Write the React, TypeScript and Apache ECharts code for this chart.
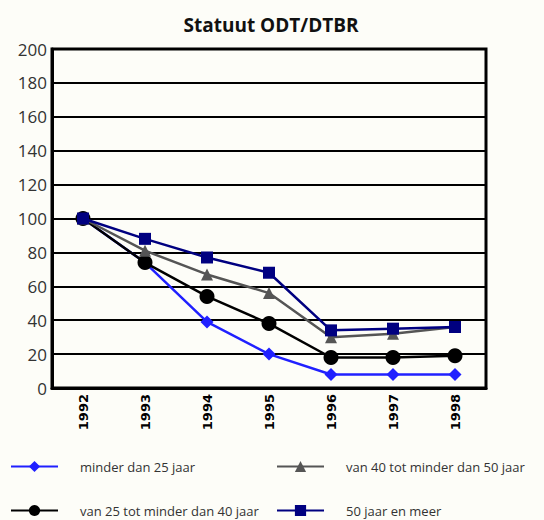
import React, { useEffect, useRef } from "react";
import * as echarts from "echarts";

const years = ["1992", "1993", "1994", "1995", "1996", "1997", "1998"];
const under25 = [100, 74, 39, 20, 8, 8, 8];
const from25to40 = [100, 74, 54, 38, 18, 18, 19];
const from40to50 = [100, 81, 67, 56, 30, 32, 36];
const over50 = [100, 88, 77, 68, 34, 35, 36];
const names = [
  "minder dan 25 jaar",
  "van 25 tot minder dan 40 jaar",
  "van 40 tot minder dan 50 jaar",
  "50 jaar en meer",
];

export default function App() {
  const ref = useRef<HTMLDivElement>(null);
  useEffect(() => {
    if (!ref.current) return;
    const chart = echarts.init(ref.current, undefined, { renderer: "svg" });
    const legendText = { fontFamily: "Open Sans", fontSize: 13, color: "#333", padding: [0, 0, 0, 17] };
    const leg = (name: string, left: number, top: number) => ({
      left,
      top,
      padding: 0,
      itemWidth: 47,
      itemHeight: 14,
      data: [name],
      textStyle: legendText,
    });
    const mk = (name: string, data: number[], color: string, symbol: string, size: number, z: number) => ({
      name,
      type: "line",
      data,
      symbol,
      symbolSize: size,
      z,
      lineStyle: { color, width: 2.5 },
      itemStyle: { color },
      emphasis: { disabled: true },
    });
    chart.setOption({
      animation: false,
      backgroundColor: "#fdfdf8",
      title: {
        text: "Statuut ODT/DTBR",
        left: 266,
        textAlign: "center",
        top: 10,
        textStyle: { fontFamily: "Open Sans", fontSize: 19, fontWeight: "bold", color: "#111" },
      },
      legend: [
        leg(names[0], 10, 460),
        leg(names[1], 10, 504),
        leg(names[2], 276, 460),
        leg(names[3], 276, 504),
      ],
      grid: {
        left: 52,
        right: 58,
        top: 49,
        bottom: 132,
        show: true,
        borderColor: "#000",
        borderWidth: 3,
        backgroundColor: "#fdfdf8",
      },
      xAxis: {
        type: "category",
        data: years,
        boundaryGap: true,
        axisLine: { lineStyle: { color: "#000", width: 3 } },
        axisTick: { inside: true, length: 3, lineStyle: { color: "#000", width: 2 } },
        axisLabel: {
          rotate: 90,
          margin: 6,
          fontFamily: "DejaVu Sans",
          fontWeight: "bold",
          fontSize: 13,
          color: "#000",
        },
      },
      yAxis: {
        type: "value",
        min: 0,
        max: 200,
        interval: 20,
        axisLine: { show: true, lineStyle: { color: "#000", width: 3 } },
        axisTick: { show: false },
        splitLine: { lineStyle: { color: "#000", width: 2 } },
        axisLabel: { margin: 5, fontFamily: "Open Sans", fontSize: 17, color: "#333" },
      },
      series: [
        mk(names[0], under25, "#2020ff", "diamond", 13, 2),
        mk(names[1], from25to40, "#000000", "circle", 15, 3),
        mk(names[2], from40to50, "#555555", "triangle", 12, 4),
        mk(names[3], over50, "#000080", "rect", 12, 5),
      ],
    });
    return () => chart.dispose();
  }, []);
  return <div ref={ref} style={{ width: 544, height: 520, position: "absolute", left: 0, top: 0 }} />;
}
